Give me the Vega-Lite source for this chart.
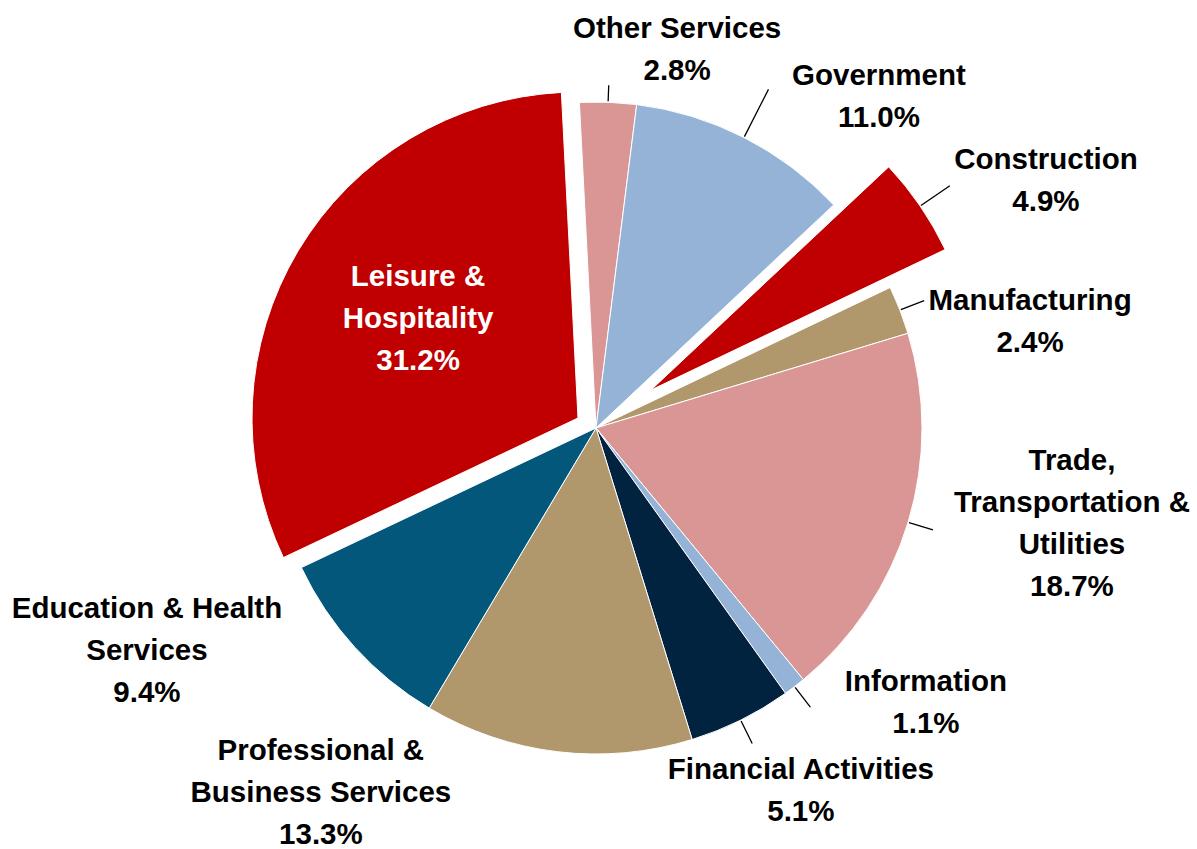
{
  "$schema": "https://vega.github.io/schema/vega-lite/v6.json",
  "width": 1192,
  "height": 842,
  "autosize": {"type": "none"},
  "padding": {"left": 0, "top": 7, "right": 5, "bottom": 0},
  "background": "white",
  "data": {
    "values": [
      {"idx": 1, "sector": "Construction", "share": 4.9, "label": "Construction\n4.9%"},
      {"idx": 2, "sector": "Manufacturing", "share": 2.4, "label": "Manufacturing\n2.4%"},
      {"idx": 3, "sector": "Trade, Transportation & Utilities", "share": 18.7, "label": "Trade,\nTransportation &\nUtilities\n18.7%"},
      {"idx": 4, "sector": "Information", "share": 1.1, "label": "Information\n1.1%"},
      {"idx": 5, "sector": "Financial Activities", "share": 5.1, "label": "Financial Activities\n5.1%"},
      {"idx": 6, "sector": "Professional & Business Services", "share": 13.3, "label": "Professional &\nBusiness Services\n13.3%"},
      {"idx": 7, "sector": "Education & Health Services", "share": 9.4, "label": "Education & Health\nServices\n9.4%"},
      {"idx": 8, "sector": "Leisure & Hospitality", "share": 31.2, "label": "Leisure &\nHospitality\n31.2%"},
      {"idx": 9, "sector": "Other Services", "share": 2.8, "label": "Other Services\n2.8%"},
      {"idx": 10, "sector": "Government", "share": 11.0, "label": "Government\n11.0%"}
    ]
  },
  "encoding": {
    "theta": {"field": "share", "type": "quantitative", "stack": true, "scale": {"domain": [0, 99.9], "range": [0.817, 7.1002]}},
    "order": {"field": "idx", "type": "quantitative"}
  },
  "layer": [
    {
      "mark": {"type": "arc", "outerRadius": 326, "stroke": "white", "strokeWidth": 1},
      "encoding": {
        "color": {"field": "sector", "type": "nominal", "legend": null,
          "scale": {
            "domain": ["Construction", "Manufacturing", "Trade, Transportation & Utilities", "Information", "Financial Activities", "Professional & Business Services", "Education & Health Services", "Leisure & Hospitality", "Other Services", "Government"],
            "range": ["#C00000", "#B0976C", "#D99694", "#95B3D7", "#012340", "#B0976C", "#02577A", "#C00000", "#D99694", "#95B3D7"]
          }},
        "opacity": {"condition": {"test": "datum.sector === 'Leisure & Hospitality' || datum.sector === 'Construction'", "value": 0}, "value": 1}
      }
    },
    {
      "mark": {"type": "arc", "outerRadius": 326, "stroke": "white", "strokeWidth": 1, "xOffset": -18, "yOffset": -10},
      "encoding": {
        "color": {"field": "sector", "type": "nominal", "legend": null},
        "opacity": {"condition": {"test": "datum.sector === 'Leisure & Hospitality'", "value": 1}, "value": 0}
      }
    },
    {
      "mark": {"type": "arc", "outerRadius": 326, "stroke": "white", "strokeWidth": 1, "xOffset": 55, "yOffset": -38},
      "encoding": {
        "color": {"field": "sector", "type": "nominal", "legend": null},
        "opacity": {"condition": {"test": "datum.sector === 'Construction'", "value": 1}, "value": 0}
      }
    },
    {
      "mark": {"type": "arc", "innerRadius": 327, "outerRadius": 352, "padAngle": 2, "fill": null, "stroke": "black", "strokeWidth": 1.3},
      "encoding": {
        "opacity": {"condition": {"test": "indexof(['Manufacturing','Trade, Transportation & Utilities','Information','Financial Activities'], datum.sector) >= 0", "value": 1}, "value": 0}
      }
    },
    {
      "mark": {"type": "arc", "innerRadius": 327, "outerRadius": 343, "padAngle": 2, "fill": null, "stroke": "black", "strokeWidth": 1.3},
      "encoding": {
        "opacity": {"condition": {"test": "datum.sector === 'Other Services'", "value": 1}, "value": 0}
      }
    },
    {
      "mark": {"type": "arc", "innerRadius": 327, "outerRadius": 380, "padAngle": 2, "fill": null, "stroke": "black", "strokeWidth": 1.3},
      "encoding": {
        "opacity": {"condition": {"test": "datum.sector === 'Government'", "value": 1}, "value": 0}
      }
    },
    {
      "mark": {"type": "arc", "innerRadius": 327, "outerRadius": 362, "padAngle": 2, "fill": null, "stroke": "black", "strokeWidth": 1.3, "xOffset": 55, "yOffset": -38},
      "encoding": {
        "opacity": {"condition": {"test": "datum.sector === 'Construction'", "value": 1}, "value": 0}
      }
    },
    {
      "mark": {"type": "text", "radius": 386.6, "dx": 66.8, "dy": -12.7},
      "encoding": {"text": {"condition": {"test": "datum.sector === 'Other Services'", "field": "label"}, "value": ""}}
    },
    {
      "mark": {"type": "text", "radius": 435.5, "dx": 85.3, "dy": 36},
      "encoding": {"text": {"condition": {"test": "datum.sector === 'Government'", "field": "label"}, "value": ""}}
    },
    {
      "mark": {"type": "text", "radius": 513.3, "dx": 26.2, "dy": 21.7},
      "encoding": {"text": {"condition": {"test": "datum.sector === 'Construction'", "field": "label"}, "value": ""}}
    },
    {
      "mark": {"type": "text", "radius": 446.8, "dx": 17.5, "dy": 34.6},
      "encoding": {"text": {"condition": {"test": "datum.sector === 'Manufacturing'", "field": "label"}, "value": ""}}
    },
    {
      "mark": {"type": "text", "radius": 485.6, "dx": 11.1, "dy": -107.3},
      "encoding": {"text": {"condition": {"test": "datum.sector === 'Trade, Transportation & Utilities'", "field": "label"}, "value": ""}}
    },
    {
      "mark": {"type": "text", "radius": 429.6, "dx": 68.3, "dy": -86.7},
      "encoding": {"text": {"condition": {"test": "datum.sector === 'Information'", "field": "label"}, "value": ""}}
    },
    {
      "mark": {"type": "text", "radius": 416.9, "dx": 19.9, "dy": -31.6},
      "encoding": {"text": {"condition": {"test": "datum.sector === 'Financial Activities'", "field": "label"}, "value": ""}}
    },
    {
      "mark": {"type": "text", "radius": 457.0, "dx": -220.9, "dy": -130.8},
      "encoding": {"text": {"condition": {"test": "datum.sector === 'Professional & Business Services'", "field": "label"}, "value": ""}}
    },
    {
      "mark": {"type": "text", "radius": 501.3, "dx": -78.2, "dy": -156.4},
      "encoding": {"text": {"condition": {"test": "datum.sector === 'Education & Health Services'", "field": "label"}, "value": ""}}
    },
    {
      "mark": {"type": "text", "radius": 208.7, "dx": 1.2, "dy": -44, "fill": "white"},
      "encoding": {"text": {"condition": {"test": "datum.sector === 'Leisure & Hospitality'", "field": "label"}, "value": ""}}
    }
  ],
  "config": {
    "view": {"stroke": null},
    "text": {"font": "Liberation Sans", "fontSize": 29.5, "fontWeight": "bold", "lineHeight": 42, "lineBreak": "\n", "align": "center", "baseline": "middle", "fill": "black"}
  }
}
